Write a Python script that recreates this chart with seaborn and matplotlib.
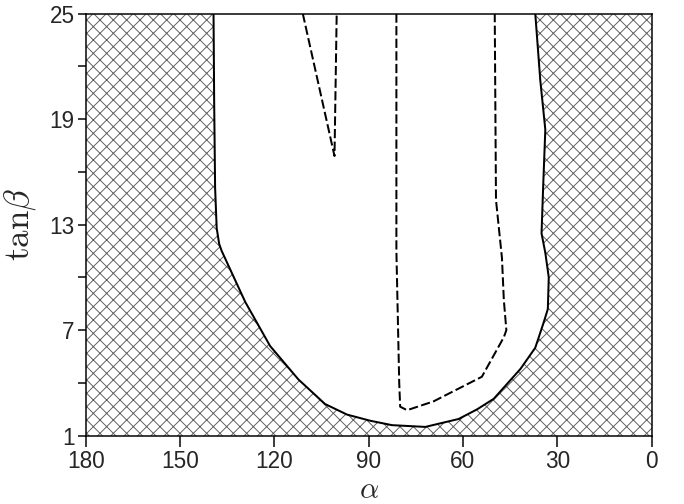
import matplotlib
matplotlib.use("Agg")
import matplotlib.pyplot as plt
import seaborn as sns
import pandas as pd

# allowed region boundary (alpha in degrees, tan beta)
bound_alpha = [139.4, 139.2, 138.9, 138.4, 137.6, 136.8, 129.3, 121.4, 112.4, 103.9, 96.9,
               89.5, 82.6, 72.0, 61.4, 55.5, 50.2, 41.7, 37.0, 34.3, 33.0, 32.7, 33.8,
               35.0, 34.5, 33.8, 35.4, 37.0]
bound_tanb = [25.0, 20.0, 15.1, 12.8, 11.9, 11.5, 8.6, 6.1, 4.2, 2.8, 2.2,
              1.85, 1.6, 1.5, 1.95, 2.5, 3.1, 4.8, 6.0, 7.45, 8.2, 10.0, 11.4,
              12.5, 15.1, 18.4, 21.2, 25.0]

# dashed contour, upper left "V"
v_alpha = [111.0, 100.9, 100.2]
v_tanb = [25.0, 16.9, 25.0]

# dashed contour, inner "U"
u_alpha = [81.2, 81.2, 80.3, 80.0, 77.8, 69.4, 54.0, 47.0, 46.2, 47.0, 47.6, 49.5, 49.9]
u_tanb = [25.0, 11.5, 4.0, 2.65, 2.45, 2.95, 4.35, 6.6, 7.0, 8.7, 11.1, 14.4, 25.0]

x_ticks = [180, 150, 120, 90, 60, 30, 0]
y_major = [1, 7, 13, 19, 25]
y_minor = [4, 10, 16, 22]

sns.set_style("ticks")
plt.rcParams["font.family"] = ["Liberation Sans", "DejaVu Sans"]
plt.rcParams["mathtext.fontset"] = "cm"
plt.rcParams["hatch.linewidth"] = 0.55
plt.rcParams["hatch.color"] = "#5a5a5a"
plt.rcParams["lines.dashed_pattern"] = [4.6, 1.7]

fig = plt.figure(figsize=(5.7, 4.2), dpi=120)
ax = fig.add_axes([0.1257, 0.1355, 0.8268, 0.8377])

# hatched background, then the allowed region cut out in white
ax.axvspan(0, 180, facecolor="white", edgecolor="#5a5a5a", hatch="xxx", lw=0, zorder=0)
ax.fill(bound_alpha, bound_tanb, facecolor="white", edgecolor="none", zorder=1)

df_b = pd.DataFrame({"alpha": bound_alpha, "tanb": bound_tanb})
sns.lineplot(data=df_b, x="alpha", y="tanb", sort=False, estimator=None,
             color="black", lw=1.2, ax=ax, zorder=3)
sns.lineplot(x=v_alpha, y=v_tanb, sort=False, estimator=None,
             color="black", lw=1.2, linestyle="--", ax=ax, zorder=3)
sns.lineplot(x=u_alpha, y=u_tanb, sort=False, estimator=None,
             color="black", lw=1.2, linestyle="--", ax=ax, zorder=3)

ax.set_xlim(180, 0)
ax.set_ylim(1, 25)
ax.set_xticks(x_ticks)
ax.set_xticklabels([str(t) for t in x_ticks])
ax.set_yticks(y_major)
ax.set_yticks(y_minor, minor=True)
ax.set_yticklabels([str(t) for t in y_major])
ax.tick_params(axis="x", which="major", direction="out", length=6.6, width=0.9,
               labelsize=13.5, pad=2, color="black")
ax.tick_params(axis="y", which="both", direction="out", length=4.8, width=0.9,
               labelsize=13.5, pad=2, color="black")
for sp in ax.spines.values():
    sp.set_visible(True)
    sp.set_linewidth(0.9)
    sp.set_color("black")

ax.set_xlabel(r"$\alpha$", fontsize=18, labelpad=2)
ax.set_ylabel(r"$\mathrm{tan}\beta$", fontsize=21, labelpad=7)

fig.savefig("out.png", dpi=120)
